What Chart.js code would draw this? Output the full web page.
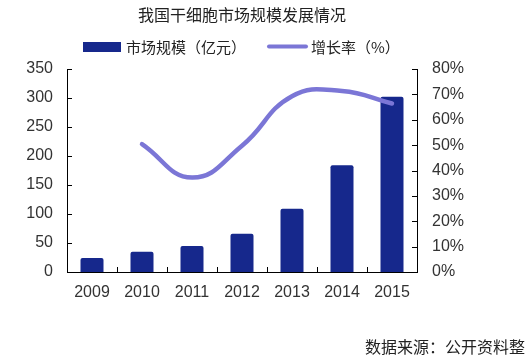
<!DOCTYPE html>
<html><head><meta charset="utf-8">
<script src="https://cdn.jsdelivr.net/npm/chart.js@4"></script>
<style>html,body{margin:0;padding:0;background:#fff}#wrap{width:526px;height:356px;position:relative}</style>
</head><body><div id="wrap"><canvas id="c" width="526" height="356"></canvas></div>
<script>
const years = ['2009','2010','2011','2012','2013','2014','2015'];
const marketSize = [24, 35, 45, 66, 109, 184, 302];
const growthRate = [null, 50.4, 37.2, 49.8, 69.3, 71.3, 66.4];
const leftTicks = [0,50,100,150,200,250,300,350];
const rightTicks = [0,10,20,30,40,50,60,70,80];
const titleText = '我国干细胞市场规模发展情况';
const barLabel = '市场规模（亿元）';
const lineLabel = '增长率（%）';
const sourceText = '数据来源：公开资料整';

const BAR = '#16288c';
const LINE = '#7b76d6';
const FONT = '"Liberation Sans", Arial, sans-serif';
const CJK = '"Noto Sans CJK SC", sans-serif';

const deco = {
  id: 'deco',
  afterDraw(chart) {
    const ctx = chart.ctx, a = chart.chartArea;
    const x = chart.scales.x, y = chart.scales.y, y1 = chart.scales.y1;
    ctx.save();
    ctx.strokeStyle = '#000'; ctx.lineWidth = 1;
    ctx.beginPath();
    leftTicks.forEach(v => { const p = Math.round(y.getPixelForValue(v)) + 0.5; ctx.moveTo(a.left, p); ctx.lineTo(a.left + 5, p); });
    rightTicks.forEach(v => { const p = Math.round(y1.getPixelForValue(v)) + 0.5; ctx.moveTo(a.right - 5, p); ctx.lineTo(a.right, p); });
    for (let i = 1; i < years.length; i++) {
      const p = Math.round((x.getPixelForValue(i - 1) + x.getPixelForValue(i)) / 2) + 0.5;
      ctx.moveTo(p, a.bottom); ctx.lineTo(p, a.bottom - 5);
    }
    ctx.stroke();
    // title
    ctx.fillStyle = '#222';
    ctx.font = '16px ' + CJK;
    ctx.textAlign = 'center'; ctx.textBaseline = 'middle';
    ctx.fillText(titleText, 242, 15);
    // legend
    ctx.font = '15px ' + CJK;
    ctx.textAlign = 'left';
    ctx.fillStyle = BAR;
    ctx.fillRect(83, 42, 38, 10);
    ctx.fillStyle = '#222';
    ctx.fillText(barLabel, 126, 47);
    ctx.strokeStyle = LINE; ctx.lineWidth = 4; ctx.lineCap = 'round';
    ctx.beginPath(); ctx.moveTo(269, 46.5); ctx.lineTo(306, 46.5); ctx.stroke();
    ctx.fillText(lineLabel, 311, 47);
    // source
    ctx.font = '16px ' + CJK;
    ctx.fillText(sourceText, 365, 347);
    ctx.restore();
  }
};

new Chart(document.getElementById('c'), {
  data: {
    labels: years,
    datasets: [
      { type: 'line', label: lineLabel, data: growthRate, yAxisID: 'y1', borderColor: LINE, borderWidth: 4.5,
        pointRadius: 0, tension: 0.45, fill: false, order: 0, spanGaps: false, borderCapStyle: 'round' },
      { type: 'bar', label: barLabel, data: marketSize, yAxisID: 'y', backgroundColor: BAR,
        categoryPercentage: 1, barPercentage: 0.46, borderRadius: 2, order: 1 }
    ]
  },
  options: {
    responsive: false, animation: false, devicePixelRatio: 1,
    layout: { padding: { top: 69, left: 0, right: 0, bottom: 0 } },
    plugins: { legend: { display: false }, title: { display: false }, tooltip: { enabled: false } },
    scales: {
      x: {
        grid: { display: false, drawTicks: false },
        border: { display: true, color: '#000', width: 1 },
        ticks: { color: '#333', font: { size: 16, family: FONT }, padding: 11 },
        afterFit(s) { s.height = 84; }
      },
      y: {
        position: 'left', min: 0, max: 350,
        afterBuildTicks(s) { s.ticks = leftTicks.map(v => ({ value: v })); },
        grid: { display: false, drawTicks: false },
        border: { display: true, color: '#000', width: 1 },
        ticks: { color: '#333', font: { size: 16, family: FONT }, padding: 14 },
        afterFit(s) { s.width = 67; }
      },
      y1: {
        position: 'right', min: 0, max: 80,
        afterBuildTicks(s) { s.ticks = rightTicks.map(v => ({ value: v })); },
        grid: { display: false, drawTicks: false },
        border: { display: true, color: '#000', width: 1 },
        ticks: { color: '#333', font: { size: 16, family: FONT }, padding: 15, callback: v => v + '%' },
        afterFit(s) { s.width = 109; }
      }
    }
  },
  plugins: [deco]
});
</script></body></html>
